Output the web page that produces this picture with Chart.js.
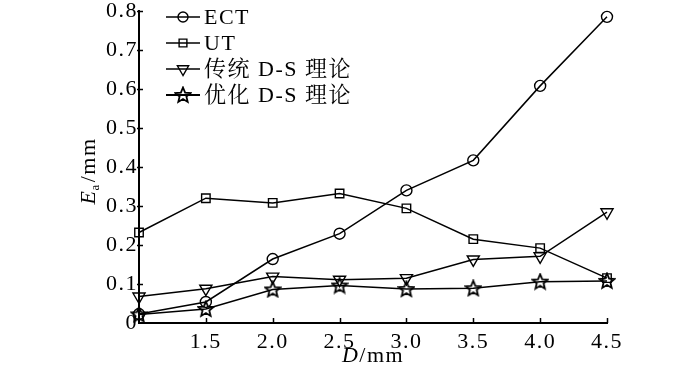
<!DOCTYPE html>
<html>
<head>
<meta charset="utf-8">
<script src="https://cdn.jsdelivr.net/npm/chart.js@4.4.1/dist/chart.umd.min.js"></script>
<style>
  html, body { margin: 0; padding: 0; background: #fff; }
  #wrap { width: 700px; height: 367px; position: relative; }
</style>
</head>
<body>
<div id="wrap"><canvas id="chart"></canvas></div>
<script>
// D (mm) and measured error Ea (mm) for each method
const diameters = [1.0, 1.5, 2.0, 2.5, 3.0, 3.5, 4.0, 4.5];
const ectErr    = [0.023, 0.054, 0.164, 0.229, 0.340, 0.417, 0.608, 0.785];
const utErr     = [0.232, 0.320, 0.308, 0.332, 0.294, 0.215, 0.192, 0.115];
const dsErr     = [0.068, 0.088, 0.119, 0.111, 0.115, 0.163, 0.171, 0.284];
const optDsErr  = [0.022, 0.036, 0.086, 0.096, 0.087, 0.089, 0.106, 0.108];
const seriesNames = ['ECT', 'UT', '传统 D-S 理论', '优化 D-S 理论'];

const SERIF = '"Liberation Serif", "Times New Roman", serif';
const LEGEND_FONT = '22px "Liberation Serif", "Noto Serif CJK SC", "Noto Sans CJK SC", serif';
const SPACING = '1.5px';

// five-pointed hollow star as an image point style
function makeStar(size) {
    const c = document.createElement('canvas');
    c.width = size; c.height = size;
    const g = c.getContext('2d');
    const cx = size / 2, cy = size / 2 + 0.5;
    const ro = size / 2 - 1, ri = ro * 0.45;
    g.beginPath();
    for (let i = 0; i < 10; i++) {
        const r = i % 2 === 0 ? ro : ri;
        const a = -Math.PI / 2 + i * Math.PI / 5;
        const px = cx + r * Math.cos(a), py = cy + r * Math.sin(a);
        if (i === 0) g.moveTo(px, py); else g.lineTo(px, py);
    }
    g.closePath();
    g.lineWidth = 1.8;
    g.strokeStyle = '#000';
    g.stroke();
    return c;
}
const starImg = makeStar(18);

const toPts = arr => arr.map((v, i) => ({ x: diameters[i], y: v }));

const styles = [
    { pointStyle: 'circle', radius: 5.5, rotation: 0 },
    { pointStyle: 'rect', radius: 6, rotation: 0 },
    { pointStyle: 'triangle', radius: 7, rotation: 180 },
    { pointStyle: starImg, radius: 9, rotation: 0 }
];
const values = [ectErr, utErr, dsErr, optDsErr];

const datasets = values.map((arr, i) => ({
    label: seriesNames[i],
    data: toPts(arr),
    borderColor: '#000',
    borderWidth: 1.5,
    backgroundColor: 'rgba(0,0,0,0)',
    pointStyle: styles[i].pointStyle,
    pointRadius: styles[i].radius,
    pointRotation: styles[i].rotation,
    pointBorderColor: '#000',
    pointBackgroundColor: 'rgba(0,0,0,0)',
    pointBorderWidth: 1.4,
    tension: 0,
    clip: false
}));

// wider letter spacing like the scanned figure
const spacingPlugin = {
    id: 'spacing',
    beforeLayout(chart) { chart.ctx.letterSpacing = SPACING; },
    beforeDraw(chart) { chart.ctx.letterSpacing = SPACING; }
};

// inward tick marks, axis titles and the in-plot legend
const decorPlugin = {
    id: 'decor',
    afterDraw(chart) {
        const ctx = chart.ctx;
        const area = chart.chartArea;
        const xs = chart.scales.x, ys = chart.scales.y;
        ctx.save();
        ctx.letterSpacing = SPACING;
        ctx.strokeStyle = '#000';
        ctx.lineWidth = 1.5;
        xs.ticks.forEach(t => {
            if (t.value <= xs.min) return;
            const px = Math.round(xs.getPixelForValue(t.value)) + 0.5;
            ctx.beginPath();
            ctx.moveTo(px, area.bottom);
            ctx.lineTo(px, area.bottom - 5);
            ctx.stroke();
        });
        ys.ticks.forEach(t => {
            if (t.value <= ys.min) return;
            const py = Math.round(ys.getPixelForValue(t.value)) + 0.5;
            ctx.beginPath();
            ctx.moveTo(area.left - 2, py);
            ctx.lineTo(area.left + 4, py);
            ctx.stroke();
        });

        // x title: D/mm
        ctx.fillStyle = '#000';
        ctx.textBaseline = 'alphabetic';
        const xMid = (area.left + area.right) / 2;
        ctx.font = 'italic 22px ' + SERIF;
        const wD = ctx.measureText('D').width;
        ctx.font = '22px ' + SERIF;
        const wRest = ctx.measureText('/mm').width;
        let sx = xMid - (wD + wRest) / 2;
        ctx.font = 'italic 22px ' + SERIF;
        ctx.fillText('D', sx, 362);
        ctx.font = '22px ' + SERIF;
        ctx.fillText('/mm', sx + wD, 362);

        // y title: Ea/mm rotated
        ctx.save();
        ctx.translate(95, 171);
        ctx.rotate(-Math.PI / 2);
        ctx.font = 'italic 22px ' + SERIF;
        const wE = ctx.measureText('E').width;
        ctx.font = '13px ' + SERIF;
        const wa = ctx.measureText('a').width;
        ctx.font = '22px ' + SERIF;
        const wmm = ctx.measureText('/mm').width;
        let tx = -(wE + wa + wmm) / 2;
        ctx.font = 'italic 22px ' + SERIF;
        ctx.fillText('E', tx, 0);
        ctx.font = '13px ' + SERIF;
        ctx.fillText('a', tx + wE - 1, 4);
        ctx.font = '22px ' + SERIF;
        ctx.fillText('/mm', tx + wE + wa, 0);
        ctx.restore();

        // legend
        const rows = [17, 43, 69, 95];
        chart.data.datasets.forEach((ds, i) => {
            const y = rows[i];
            ctx.lineWidth = i === 3 ? 2.2 : 1.5;
            ctx.beginPath();
            ctx.moveTo(166, y);
            ctx.lineTo(200, y);
            ctx.stroke();
            ctx.fillStyle = 'rgba(0,0,0,0)';
            ctx.lineWidth = 1.4;
            Chart.helpers.drawPoint(ctx, {
                pointStyle: ds.pointStyle,
                radius: ds.pointRadius - 0.5,
                rotation: ds.pointRotation,
                borderWidth: 1.4
            }, 183, y);
            ctx.font = LEGEND_FONT;
            ctx.textBaseline = 'middle';
            ctx.fillStyle = '#000';
            ctx.fillText(ds.label, 204, y + 1);
        });
        ctx.restore();
    }
};

Chart.defaults.font.family = SERIF;
Chart.defaults.font.size = 22;
Chart.defaults.color = '#000';

new Chart(document.getElementById('chart'), {
    type: 'line',
    data: { datasets: datasets },
    options: {
        responsive: true,
        maintainAspectRatio: false,
        animation: false,
        layout: { padding: { left: 0, right: 93, top: 11, bottom: 0 } },
        plugins: {
            legend: { display: false },
            tooltip: { enabled: false }
        },
        scales: {
            x: {
                type: 'linear',
                min: 1.0,
                max: 4.5,
                grid: { display: false, drawTicks: false },
                border: { display: true, color: '#000', width: 2 },
                ticks: {
                    stepSize: 0.5,
                    padding: 6,
                    maxRotation: 0,
                    callback: v => (v <= 1.0 ? '' : v.toFixed(1))
                },
                afterFit: s => { s.height = 44; s.paddingLeft = 0; s.paddingRight = 0; }
            },
            y: {
                min: 0,
                max: 0.8,
                grid: { display: false, drawTicks: false },
                border: { display: true, color: '#000', width: 2 },
                ticks: {
                    stepSize: 0.1,
                    padding: 1,
                    callback: v => (Math.abs(v) < 1e-9 ? '0' : v.toFixed(1))
                },
                afterFit: s => { s.width = 139; s.paddingTop = 0; s.paddingBottom = 0; }
            }
        }
    },
    plugins: [spacingPlugin, decorPlugin]
});
</script>
</body>
</html>
